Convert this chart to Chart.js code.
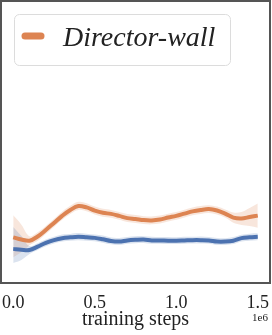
<!DOCTYPE html>
<html>
<head>
<meta charset="utf-8">
<title>Director-wall</title>
<script src="https://cdn.jsdelivr.net/npm/chart.js@4.4.1/dist/chart.umd.min.js"></script>
<style>
    body { margin: 0; background: #fff; }
    canvas { display: block; }
</style>
</head>
<body>
<canvas id="returnChart" width="272" height="335"></canvas>
<script>
// training steps (every 50k)
const steps = [
    0, 50000, 100000, 150000, 200000, 250000, 300000, 350000, 400000, 450000,
    500000, 550000, 600000, 650000, 700000, 750000, 800000, 850000, 900000, 950000,
    1000000, 1050000, 1100000, 1150000, 1200000, 1250000, 1300000, 1350000, 1400000, 1450000,
    1500000
];
const xTicks = [0, 500000, 1000000, 1500000];

// Director-wall (orange)
const directorMean = [
    0.162, 0.154, 0.150, 0.165, 0.188, 0.213, 0.238, 0.259, 0.273, 0.268,
    0.257, 0.249, 0.245, 0.238, 0.230, 0.227, 0.223, 0.222, 0.225, 0.232,
    0.238, 0.246, 0.254, 0.259, 0.262, 0.257, 0.246, 0.232, 0.229, 0.234,
    0.239
];
const directorHigh = [
    0.240, 0.207, 0.166, 0.180, 0.202, 0.227, 0.253, 0.274, 0.288, 0.283,
    0.271, 0.263, 0.259, 0.252, 0.245, 0.241, 0.237, 0.236, 0.239, 0.246,
    0.252, 0.260, 0.268, 0.273, 0.276, 0.271, 0.261, 0.250, 0.252, 0.266,
    0.282
];
const directorLow = [
    0.091, 0.110, 0.134, 0.150, 0.174, 0.199, 0.224, 0.245, 0.259, 0.254,
    0.243, 0.235, 0.231, 0.224, 0.216, 0.213, 0.209, 0.208, 0.211, 0.218,
    0.224, 0.232, 0.240, 0.245, 0.248, 0.243, 0.232, 0.214, 0.206, 0.202,
    0.196
];

// baseline (blue, unlabeled)
const baseMean = [
    0.121, 0.118, 0.117, 0.129, 0.142, 0.152, 0.159, 0.162, 0.164, 0.162,
    0.160, 0.155, 0.149, 0.147, 0.151, 0.153, 0.154, 0.151, 0.151, 0.150,
    0.150, 0.151, 0.152, 0.152, 0.151, 0.147, 0.147, 0.150, 0.159, 0.162,
    0.164
];
const baseHigh = [
    0.199, 0.167, 0.131, 0.141, 0.154, 0.164, 0.172, 0.174, 0.177, 0.175,
    0.172, 0.168, 0.161, 0.160, 0.163, 0.166, 0.166, 0.164, 0.163, 0.163,
    0.162, 0.164, 0.164, 0.165, 0.163, 0.160, 0.159, 0.163, 0.171, 0.175,
    0.176
];
const baseLow = [
    0.071, 0.082, 0.103, 0.117, 0.130, 0.140, 0.147, 0.150, 0.152, 0.150,
    0.148, 0.143, 0.137, 0.135, 0.139, 0.141, 0.142, 0.139, 0.139, 0.138,
    0.138, 0.139, 0.140, 0.140, 0.139, 0.135, 0.135, 0.138, 0.147, 0.150,
    0.152
];

const ORANGE = "#dd8452";
const BLUE = "#4c72b0";
const SERIF = "'Liberation Serif', 'DejaVu Serif', serif";

function points(ys) {
    return ys.map((y, i) => ({ x: steps[i], y: y }));
}

function band(ys, color, fillTarget) {
    return {
        data: points(ys),
        borderWidth: 0,
        pointRadius: 0,
        backgroundColor: color,
        fill: fillTarget,
        order: 2,
    };
}

// frame around the plot + "1e6" offset label + legend box
const decorPlugin = {
    id: "decor",
    afterDraw(chart) {
        const ctx = chart.ctx;
        const a = chart.chartArea;
        ctx.save();
        ctx.strokeStyle = "#555";
        ctx.lineWidth = 2;
        ctx.strokeRect(a.left, a.top, a.right - a.left, a.bottom - a.top);

        ctx.fillStyle = "#222";
        ctx.font = "11px " + SERIF;
        ctx.textAlign = "right";
        ctx.textBaseline = "alphabetic";
        ctx.fillText("1e6", 268, 321);

        // legend
        const lx = 14, ly = 14, lw = 216, lh = 51, r = 5;
        ctx.beginPath();
        ctx.roundRect(lx + 0.5, ly + 0.5, lw, lh, r);
        ctx.fillStyle = "rgba(255,255,255,0.8)";
        ctx.fill();
        ctx.strokeStyle = "#dcdcdc";
        ctx.lineWidth = 1;
        ctx.stroke();

        ctx.beginPath();
        ctx.moveTo(25, 36);
        ctx.lineTo(41, 36);
        ctx.strokeStyle = ORANGE;
        ctx.lineWidth = 7;
        ctx.lineCap = "round";
        ctx.stroke();

        ctx.fillStyle = "#222";
        ctx.font = "italic 28px " + SERIF;
        ctx.textAlign = "left";
        ctx.fillText("Director-wall", 63, 45.5);
        ctx.restore();
    }
};

new Chart(document.getElementById("returnChart"), {
    type: "line",
    data: {
        datasets: [
            band(baseLow, "rgba(76,114,176,0.2)", false),
            band(baseHigh, "rgba(76,114,176,0.2)", 0),
            band(directorLow, "rgba(221,132,82,0.2)", false),
            band(directorHigh, "rgba(221,132,82,0.2)", 2),
            {
                data: points(baseMean),
                borderColor: BLUE,
                borderWidth: 4,
                pointRadius: 0,
                fill: false,
                order: 0,
            },
            {
                label: "Director-wall",
                data: points(directorMean),
                borderColor: ORANGE,
                borderWidth: 4,
                pointRadius: 0,
                fill: false,
                order: 0,
            },
        ],
    },
    options: {
        responsive: false,
        animation: false,
        layout: { padding: { left: 1, right: 2, top: 1, bottom: 0 } },
        elements: { line: { tension: 0.35 } },
        plugins: {
            legend: { display: false },
            tooltip: { enabled: false },
        },
        scales: {
            x: {
                type: "linear",
                min: -75000,
                max: 1575000,
                afterBuildTicks: axis => {
                    axis.ticks = xTicks.map(v => ({ value: v }));
                },
                afterFit: axis => {
                    // tick labels may hang over the frame, like matplotlib
                    axis.paddingLeft = 0;
                    axis.paddingRight = 0;
                    axis.height = 52;
                },
                grid: { display: false, drawTicks: false },
                border: { display: false },
                ticks: {
                    padding: 9,
                    color: "#222",
                    font: { family: SERIF, size: 18 },
                    maxRotation: 0,
                    callback: v => (v / 1e6).toFixed(1),
                },
                title: {
                    display: true,
                    text: "training steps",
                    color: "#222",
                    font: { family: SERIF, size: 20 },
                    padding: { top: 0, bottom: 3 },
                },
            },
            y: {
                display: false,
                min: 0,
                max: 1,
            },
        },
    },
    plugins: [decorPlugin],
});
</script>
</body>
</html>
